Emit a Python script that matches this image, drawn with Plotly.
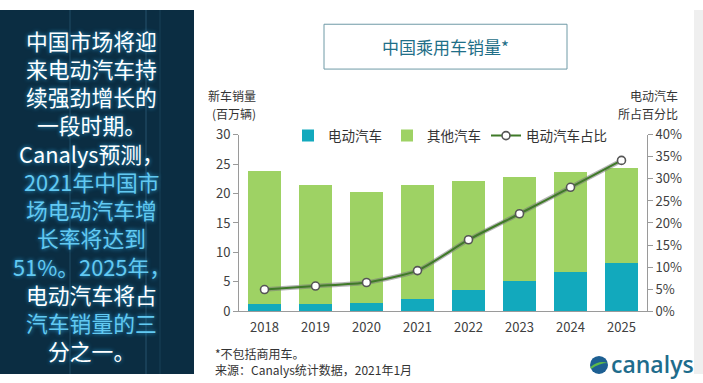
import plotly.graph_objects as go

years = ["2018", "2019", "2020", "2021", "2022", "2023", "2024", "2025"]
ev_sales = [1.3, 1.3, 1.4, 2.0, 3.6, 5.1, 6.7, 8.2]
total_sales = [23.8, 21.4, 20.2, 21.4, 22.2, 22.9, 23.6, 24.4]
other_sales = [round(t - e, 2) for t, e in zip(total_sales, ev_sales)]
ev_share = [0.049, 0.057, 0.065, 0.092, 0.162, 0.221, 0.281, 0.342]

left_lines = [
    ("中国市场将迎", "#ffffff"),
    ("来电动汽车持", "#ffffff"),
    ("续强劲增长的", "#ffffff"),
    ("一段时期。", "#ffffff"),
    ("Canalys预测，", "#ffffff"),
    ("2021年中国市", "#62c9f2"),
    ("场电动汽车增", "#62c9f2"),
    ("长率将达到", "#62c9f2"),
    ("51%。2025年，", "#62c9f2"),
    ("电动汽车将占", "#ffffff"),
    ("汽车销量的三", "#62c9f2"),
    ("分之一。", "#ffffff"),
]

W, H = 703, 383
FONT = "Noto Sans CJK SC, Noto Sans, sans-serif"
# the photographed page is shifted/scaled slightly in y; compensate
S, OFF = 0.954, 9.7


def px(x):
    return x / W


def py(y):
    return 1 - ((y - OFF) / S) / H


EV_COLOR = "#12a9bd"
OTHER_COLOR = "#9ed264"

fig = go.Figure()
fig.add_trace(go.Bar(x=years, y=ev_sales, name="电动汽车", marker_color=EV_COLOR,
                     marker_line_width=0))
fig.add_trace(go.Bar(x=years, y=other_sales, name="其他汽车", marker_color=OTHER_COLOR,
                     marker_line_width=0))
fig.add_trace(go.Scatter(x=years, y=ev_share, yaxis="y2", mode="lines", showlegend=False,
                         line=dict(color="rgba(120,120,120,0.55)", width=4.5, shape="spline",
                                   smoothing=0.6), hoverinfo="skip"))
fig.add_trace(go.Scatter(x=years, y=ev_share, yaxis="y2", name="电动汽车占比",
                         mode="lines+markers",
                         line=dict(color="#3f7a28", width=2, shape="spline", smoothing=0.6),
                         marker=dict(size=8, color="white", line=dict(color="#555555", width=1.6))))

shapes = [
    dict(type="rect", xref="paper", yref="paper", x0=0, x1=px(194), y0=0, y1=1,
         fillcolor="#0b2d42", line_width=0, layer="below"),
    dict(type="rect", xref="paper", yref="paper", x0=px(694), x1=1, y0=0, y1=1,
         fillcolor="#efefef", line_width=0, layer="below"),
    dict(type="rect", xref="paper", yref="paper", x0=px(324), x1=px(567), y0=py(69), y1=py(24),
         fillcolor="rgba(0,0,0,0)", line=dict(color="#6f9aa6", width=1)),
    # canalys globe
    dict(type="circle", xref="paper", yref="paper", x0=px(590), x1=px(608), y0=py(375), y1=py(357),
         fillcolor="#1d5f92", line_width=0),
    dict(type="path", xref="paper", yref="paper",
         path=f"M {px(590.5)} {py(368)} Q {px(599)} {py(361)} {px(607.5)} {py(364)} "
              f"Q {px(600)} {py(364)} {px(591)} {py(370)} Z",
         fillcolor="#5fba48", line_width=0),
]
# faint vertical glow stripes in left panel
for xs, op in [(70, 0.10), (146, 0.12), (160, 0.06)]:
    shapes.append(dict(type="line", xref="paper", yref="paper", x0=px(xs), x1=px(xs), y0=0, y1=1,
                       line=dict(color=f"rgba(120,200,240,{op})", width=2), layer="below"))

annotations = []
for i, (txt, col) in enumerate(left_lines):
    annotations.append(dict(
        text=txt, xref="paper", yref="paper", x=px(92), y=py(40 + i * 28.36),
        xanchor="center", yanchor="middle", showarrow=False,
        font=dict(family=FONT, size=21.8, color=col, shadow="0px 0px 4px #2a9fd8"),
    ))


def small(text, x, y, anchor, size=12):
    return dict(text=text, xref="paper", yref="paper", x=px(x), y=py(y), xanchor=anchor,
                yanchor="middle", showarrow=False,
                font=dict(family=FONT, size=size, color="#333333"))


annotations += [
    dict(text="中国乘用车销量*", xref="paper", yref="paper", x=px(445.5), y=py(46),
         xanchor="center", yanchor="middle", showarrow=False,
         font=dict(family=FONT, size=17, color="#1f6f88")),
    small("新车销量", 206, 95.5, "left"),
    small("(百万辆)", 210, 113.5, "left"),
    small("电动汽车", 680, 95.5, "right"),
    small("所占百分比", 680, 113.5, "right"),
    small("*不包括商用车。", 213, 355, "left"),
    small("来源：Canalys统计数据，2021年1月", 213, 371, "left"),
    dict(text="canalys", xref="paper", yref="paper", x=px(609), y=py(365),
         xanchor="left", yanchor="middle", showarrow=False,
         font=dict(family="Open Sans, sans-serif", size=23, color="#1e6c8c", weight=600)),
]

fig.update_layout(
    width=W, height=H,
    margin=dict(l=0, r=0, t=0, b=0),
    paper_bgcolor="white", plot_bgcolor="white",
    barmode="stack", bargap=0.35,
    font=dict(family=FONT, color="#404040"),
    shapes=shapes, annotations=annotations,
    showlegend=True,
    legend=dict(orientation="h", x=px(288), y=py(136), xanchor="left", yanchor="middle",
                font=dict(family=FONT, size=13.5, color="#333333"), bgcolor="rgba(0,0,0,0)",
                itemwidth=30, tracegroupgap=0, traceorder="normal"),
    xaxis=dict(domain=[px(239), px(647)], showline=True, linecolor="#9a9a9a", linewidth=1,
               ticks="outside", ticklen=4, tickcolor="rgba(0,0,0,0)",
               tickfont=dict(size=13, color="#404040"), showgrid=False, fixedrange=True),
    yaxis=dict(domain=[py(312), py(135)], range=[0, 30], dtick=5, showline=True,
               linecolor="#9a9a9a", ticks="outside", ticklen=5, tickcolor="#9a9a9a",
               tickfont=dict(size=13, color="#404040"), showgrid=False, zeroline=False),
    yaxis2=dict(overlaying="y", side="right", range=[0, 0.4], dtick=0.05, tickformat=".0%",
                showline=True, linecolor="#9a9a9a", ticks="outside", ticklen=5,
                tickcolor="#9a9a9a", tickfont=dict(size=13, color="#404040"), showgrid=False,
                zeroline=False, anchor="x"),
)

page_fix = (
    "(function(){var s=document.createElement('style');"
    "s.innerHTML='html,body{margin:0;padding:0;overflow:hidden;width:703px;height:383px;}"
    " .plotly-graph-div{position:fixed;top:0;left:0;}';"
    "document.head.appendChild(s);})();"
)

fig.write_html("out.html", config={"displayModeBar": False}, post_script=page_fix)
